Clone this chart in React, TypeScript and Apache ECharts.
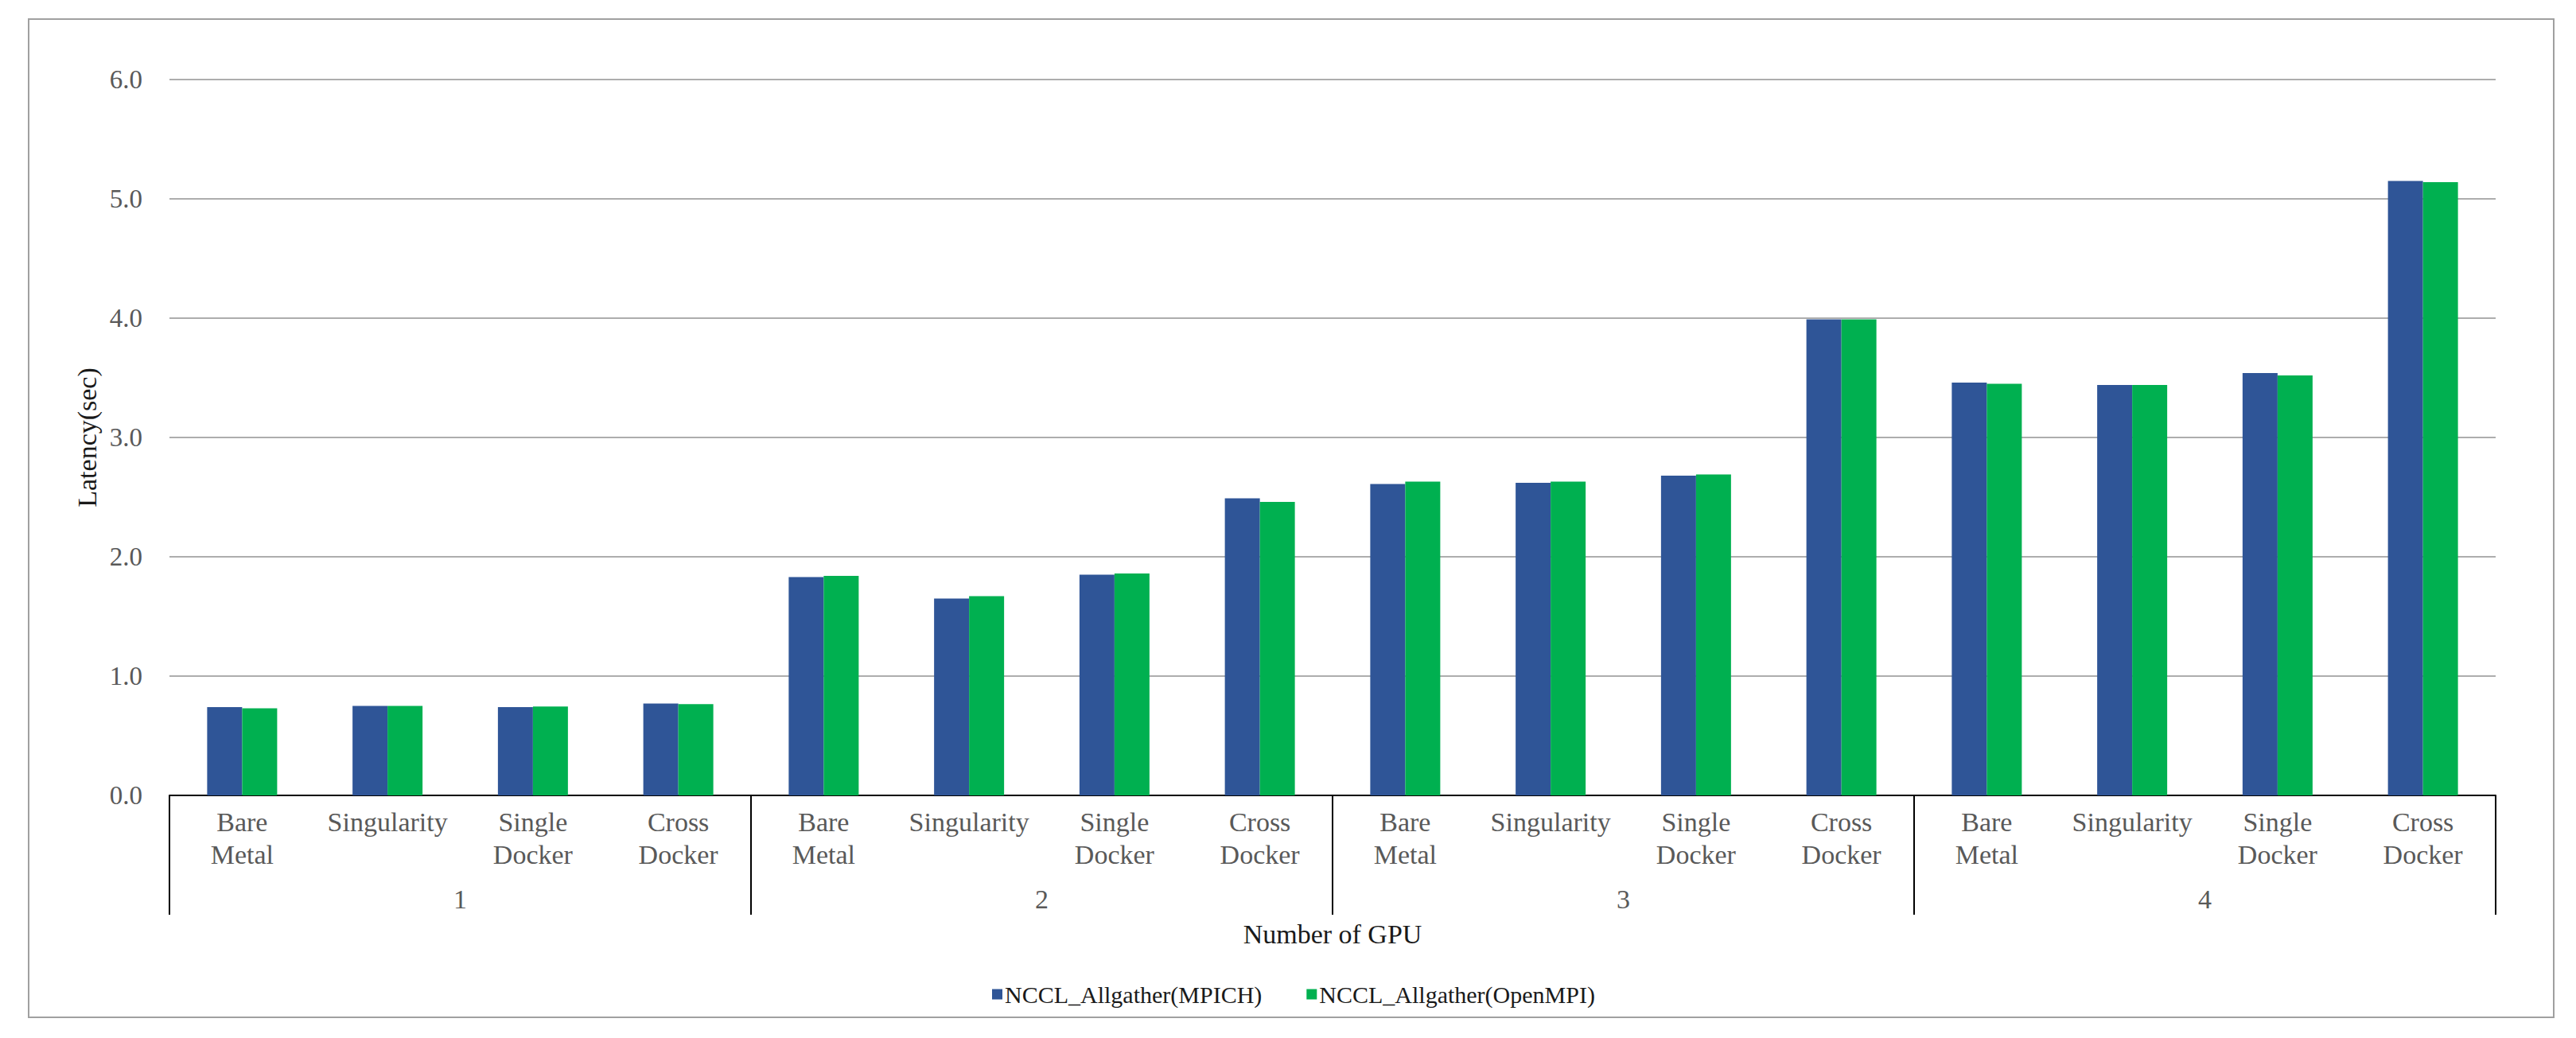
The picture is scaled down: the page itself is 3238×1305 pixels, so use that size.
import React, { useEffect, useRef } from "react";
import * as echarts from "echarts";

const gpuGroups = ["1", "2", "3", "4"];
const environments = ["Bare\nMetal", "Singularity", "Single\nDocker", "Cross\nDocker"];
const categories = gpuGroups.flatMap(() => environments);
const seriesNames = ["NCCL_Allgather(MPICH)", "NCCL_Allgather(OpenMPI)"];
const mpich = [0.74, 0.75, 0.74, 0.77, 1.83, 1.65, 1.85, 2.49, 2.61, 2.62, 2.68, 3.99, 3.46, 3.44, 3.54, 5.15];
const openmpi = [0.73, 0.75, 0.745, 0.765, 1.84, 1.67, 1.86, 2.46, 2.63, 2.63, 2.69, 3.99, 3.45, 3.44, 3.52, 5.14];
const yMin = 0;
const yMax = 6;
const yStep = 1;

const FONT = "'Liberation Serif', 'DejaVu Serif', serif";

export default function App() {
  const ref = useRef<HTMLDivElement>(null);
  useEffect(() => {
    document.body.style.margin = "0";
    const chart = echarts.init(ref.current!, null, { renderer: "svg" });
    chart.setOption({
      animation: false,
      backgroundColor: "#ffffff",
      textStyle: { fontFamily: FONT },
      graphic: [
        {
          type: "rect",
          shape: { x: 36, y: 24, width: 3174, height: 1255 },
          style: { fill: "none", stroke: "#a0a0a0", lineWidth: 2 },
          silent: true,
        },
      ],
      grid: { left: 213, right: 101, top: 100, bottom: 305 },
      legend: {
        left: 1242,
        top: 1230,
        itemWidth: 13,
        itemHeight: 13,
        itemGap: 56,
        icon: "rect",
        textStyle: { fontFamily: FONT, fontSize: 30, color: "#1a1a1a", padding: [0, 0, 0, -2] },
        data: seriesNames,
      },
      xAxis: [
        {
          type: "category",
          data: categories,
          position: "bottom",
          axisLine: { show: true, lineStyle: { color: "#000", width: 2 } },
          axisTick: { show: false },
          axisLabel: {
            interval: 0,
            margin: 13,
            fontFamily: FONT,
            fontSize: 34,
            lineHeight: 41,
            color: "#595959",
          },
          splitLine: { show: false },
        },
        {
          type: "category",
          data: gpuGroups,
          position: "bottom",
          axisLine: { show: false },
          axisTick: { show: true, length: 150, lineStyle: { color: "#000", width: 2 } },
          axisLabel: {
            interval: 0,
            margin: 113,
            fontFamily: FONT,
            fontSize: 34,
            lineHeight: 34,
            color: "#595959",
          },
          name: "Number of GPU",
          nameLocation: "middle",
          nameGap: 157,
          nameTextStyle: { fontFamily: FONT, fontSize: 34, color: "#1a1a1a", lineHeight: 34 },
          splitLine: { show: false },
        },
      ],
      yAxis: {
        type: "value",
        min: yMin,
        max: yMax,
        interval: yStep,
        axisLine: { show: false },
        axisTick: { show: false },
        axisLabel: {
          margin: 34,
          fontFamily: FONT,
          fontSize: 33,
          color: "#595959",
          formatter: (v: number) => v.toFixed(1),
        },
        splitLine: { lineStyle: { color: "#adadad", width: 2 } },
        name: "Latency(sec)",
        nameLocation: "middle",
        nameGap: 85,
        nameTextStyle: { fontFamily: FONT, fontSize: 34, color: "#1a1a1a" },
      },
      series: [
        {
          name: seriesNames[0],
          type: "bar",
          data: mpich,
          barWidth: 44,
          barGap: "0%",
          itemStyle: { color: "#2F5597" },
        },
        {
          name: seriesNames[1],
          type: "bar",
          data: openmpi,
          barWidth: 44,
          barGap: "0%",
          itemStyle: { color: "#00B050" },
        },
      ],
    });
    return () => chart.dispose();
  }, []);
  return <div ref={ref} style={{ width: 3238, height: 1305 }} />;
}
